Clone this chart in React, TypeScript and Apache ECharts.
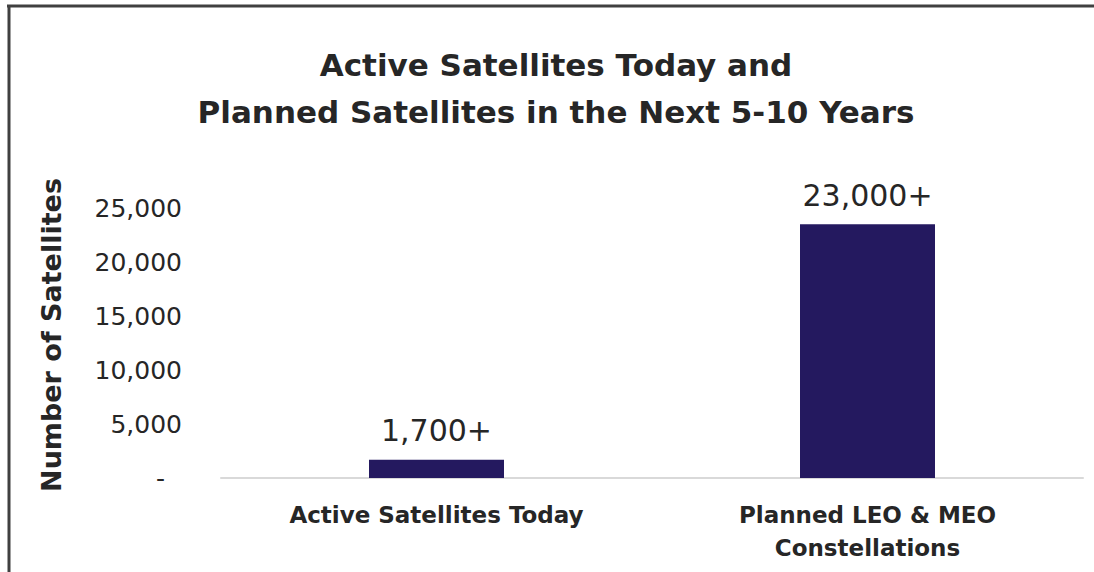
import React, { useEffect, useRef } from "react";
import * as echarts from "echarts";

const categories = ["Active Satellites Today", "Planned LEO & MEO\nConstellations"];
const satellites = [1700, 23500];
const barLabels = ["1,700+", "23,000+"];
const yTicks = { min: 0, max: 25000, interval: 5000 };
const titleLines = ["Active Satellites Today and", "Planned Satellites in the Next 5-10 Years"];
const yAxisTitle = "Number of Satellites";

export default function App() {
  const ref = useRef<HTMLDivElement>(null);
  useEffect(() => {
    document.body.style.margin = "0";
    const chart = echarts.init(ref.current!, null, { renderer: "svg" });
    const textColor = "#262626";
    chart.setOption({
      animation: false,
      backgroundColor: "#ffffff",
      grid: { left: 221, right: 11, top: 208, bottom: 94, outerBoundsMode: "none" },
      graphic: [
        { type: "line", shape: { x1: 7, y1: 6, x2: 1094, y2: 6 }, style: { stroke: "#404040", lineWidth: 3 } },
        { type: "line", shape: { x1: 9, y1: 5, x2: 9, y2: 572 }, style: { stroke: "#404040", lineWidth: 3 } },
        {
          type: "text",
          x: 556,
          y: 88,
          style: {
            text: titleLines.join("\n"),
            align: "center",
            verticalAlign: "middle",
            font: "bold 31px 'DejaVu Sans'",
            lineHeight: 47,
            fill: textColor,
          },
        },
      ],
      xAxis: {
        type: "category",
        data: categories,
        axisLine: { lineStyle: { color: "#d9d9d9", width: 2 } },
        axisTick: { show: false },
        axisLabel: {
          color: textColor,
          fontFamily: "DejaVu Sans",
          fontWeight: "bold",
          fontSize: 23,
          lineHeight: 33,
          margin: 20,
          interval: 0,
        },
      },
      yAxis: {
        type: "value",
        min: yTicks.min,
        max: yTicks.max,
        interval: yTicks.interval,
        name: yAxisTitle,
        nameLocation: "middle",
        nameRotate: 90,
        nameGap: 156,
        nameTextStyle: {
          color: textColor,
          fontFamily: "DejaVu Sans",
          fontWeight: "bold",
          fontSize: 27,
          padding: [0, 0, 0, 16],
        },
        axisLine: { show: false },
        axisTick: { show: false },
        splitLine: { show: false },
        axisLabel: {
          color: textColor,
          fontFamily: "DejaVu Sans",
          fontSize: 25,
          margin: 39,
          formatter: (v: number) => (v === 0 ? "{d|-}" : v.toLocaleString("en-US")),
          rich: { d: { color: textColor, fontFamily: "DejaVu Sans", fontSize: 25, padding: [0, 17, 0, 0] } },
        },
      },
      series: [
        {
          type: "bar",
          data: satellites,
          barWidth: 135,
          itemStyle: { color: "#24195f" },
          label: {
            show: true,
            position: "top",
            distance: 14,
            color: textColor,
            fontFamily: "DejaVu Sans",
            fontSize: 30,
            formatter: (p: any) => barLabels[p.dataIndex],
          },
        },
      ],
    });
    return () => chart.dispose();
  }, []);
  return <div ref={ref} style={{ width: 1094, height: 572 }} />;
}
